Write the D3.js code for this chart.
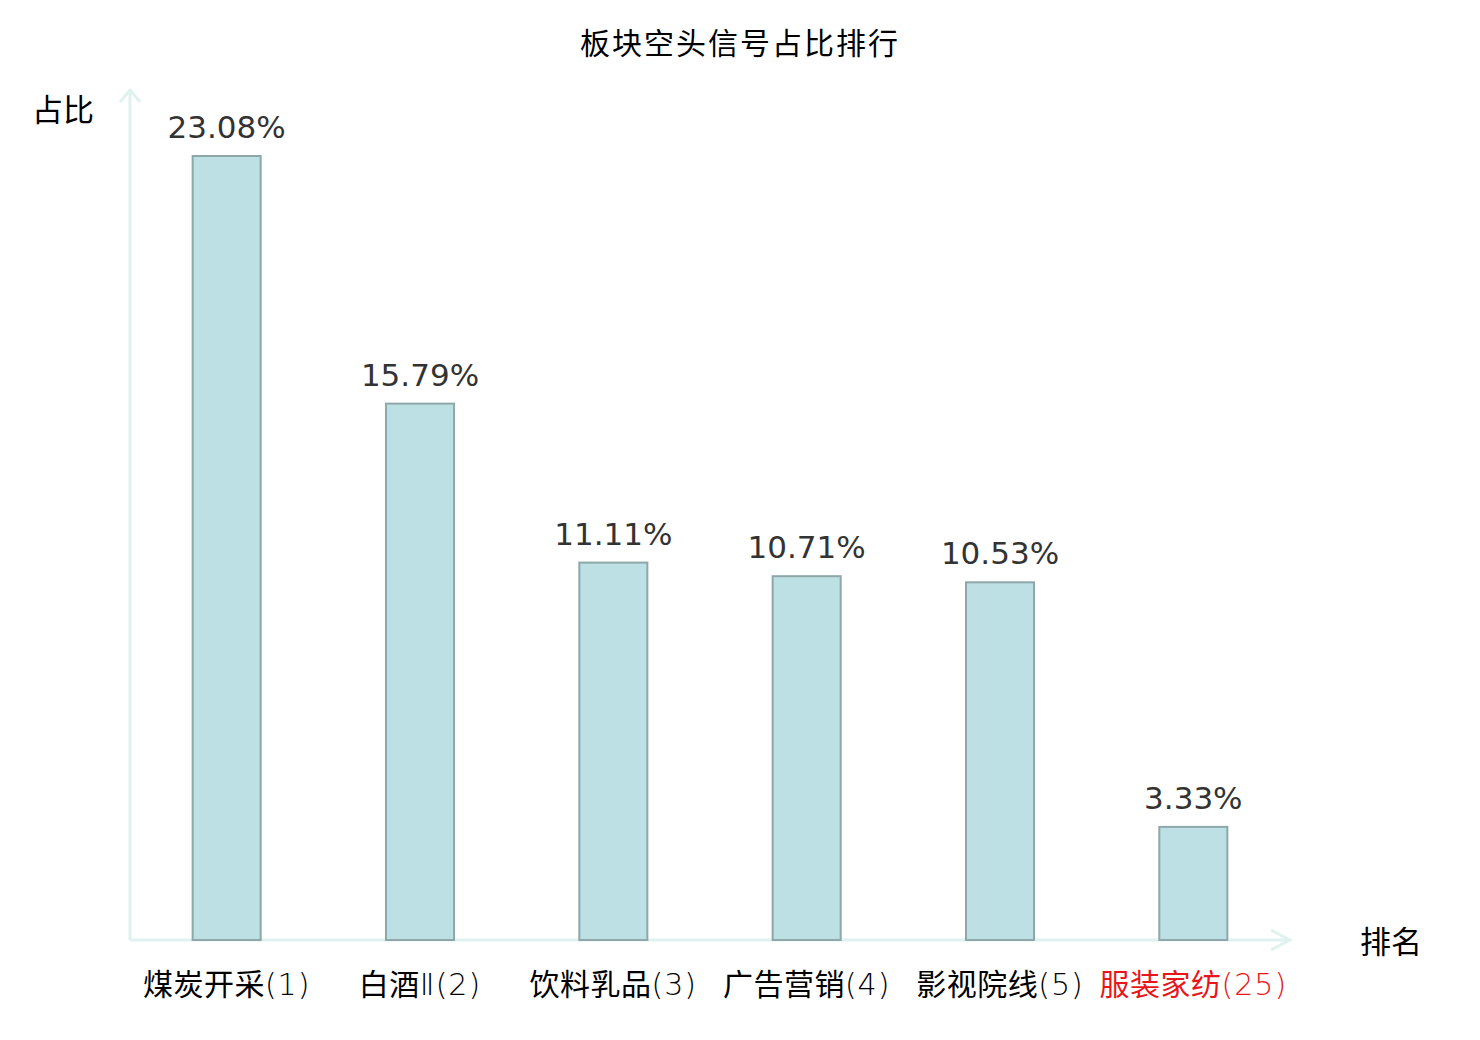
<!DOCTYPE html>
<html><head><meta charset="utf-8">
<script src="https://cdn.jsdelivr.net/npm/d3@7/dist/d3.min.js"></script>
<style>body{margin:0;background:#fff}svg{display:block}</style>
</head><body>
<svg id="c" width="1480" height="1040"></svg>
<script>
const categories = ["煤炭开采(1)","白酒Ⅱ(2)","饮料乳品(3)","广告营销(4)","影视院线(5)","服装家纺(25)"];
const values = [23.08, 15.79, 11.11, 10.71, 10.53, 3.33];
const highlight = [false,false,false,false,false,true];
const title = "板块空头信号占比排行";
const yName = "占比";
const xName = "排名";

const svg = d3.select("#c");
const cjk = "'Noto Sans CJK SC','Microsoft YaHei',sans-serif";
const x0 = 130, x1 = 1290, yBase = 940, yTop = 156;
const x = d3.scaleBand().domain(categories).range([x0, x1]).paddingInner(0.648).paddingOuter(0.324);
const y = d3.scaleLinear().domain([0, d3.max(values)]).range([yBase, yTop]);

const axisColor = "#dff2ef";
svg.append("line").attr("x1",x0).attr("y1",yBase).attr("x2",x0).attr("y2",90)
  .attr("stroke",axisColor).attr("stroke-width",3);
svg.append("path").attr("d",`M${x0-10},${102}L${x0},${90}L${x0+10},${102}`)
  .attr("fill","none").attr("stroke",axisColor).attr("stroke-width",3);
svg.append("line").attr("x1",x0).attr("y1",yBase).attr("x2",x1).attr("y2",yBase)
  .attr("stroke",axisColor).attr("stroke-width",3);
svg.append("path").attr("d",`M${x1-19},${yBase-10}L${x1},${yBase}L${x1-19},${yBase+10}`)
  .attr("fill","none").attr("stroke",axisColor).attr("stroke-width",3);

svg.selectAll("rect.bar").data(values).join("rect").attr("class","bar")
  .attr("x",(d,i)=>x(categories[i]))
  .attr("y",d=>y(d))
  .attr("width",x.bandwidth())
  .attr("height",d=>yBase-y(d))
  .attr("fill","#bce0e3").attr("stroke","#8ea8a9").attr("stroke-width",2);

svg.selectAll("text.val").data(values).join("text").attr("class","val")
  .attr("x",(d,i)=>x(categories[i])+x.bandwidth()/2)
  .attr("y",d=>y(d)-18)
  .attr("text-anchor","middle")
  .attr("font-family","'DejaVu Sans',sans-serif").attr("font-size",31)
  .attr("fill","#333").text(d=>d.toFixed(2)+"%");

const splitCjk = d => { const m = d.match(/^[\u4e00-\u9fff]+/); const n = m ? m[0].length : 0; return [d.slice(0,n), d.slice(n)]; };
const cats = svg.selectAll("text.cat").data(categories).join("text").attr("class","cat")
  .attr("x",d=>x(d)+x.bandwidth()/2)
  .attr("y",995)
  .attr("text-anchor","middle")
  .attr("font-size",30)
  .attr("fill",(d,i)=>highlight[i]?"#e8161b":"#000");
cats.append("tspan").attr("font-family",cjk).attr("letter-spacing",0.5)
  .text(d=>splitCjk(d)[0]);
cats.append("tspan").attr("font-family","'DejaVu Sans',sans-serif").attr("font-weight",200).attr("letter-spacing",1)
  .text(d=>splitCjk(d)[1]);

svg.append("text").attr("x",740).attr("y",54).attr("text-anchor","middle")
  .attr("font-family",cjk).attr("font-size",30).attr("letter-spacing",2).attr("fill","#000").text(title);
svg.append("text").attr("x",63).attr("y",121).attr("text-anchor","middle")
  .attr("font-family",cjk).attr("font-size",31).attr("fill","#000").text(yName);
svg.append("text").attr("x",1391).attr("y",953).attr("text-anchor","middle")
  .attr("font-family",cjk).attr("font-size",31).attr("fill","#000").text(xName);
</script>
</body></html>
